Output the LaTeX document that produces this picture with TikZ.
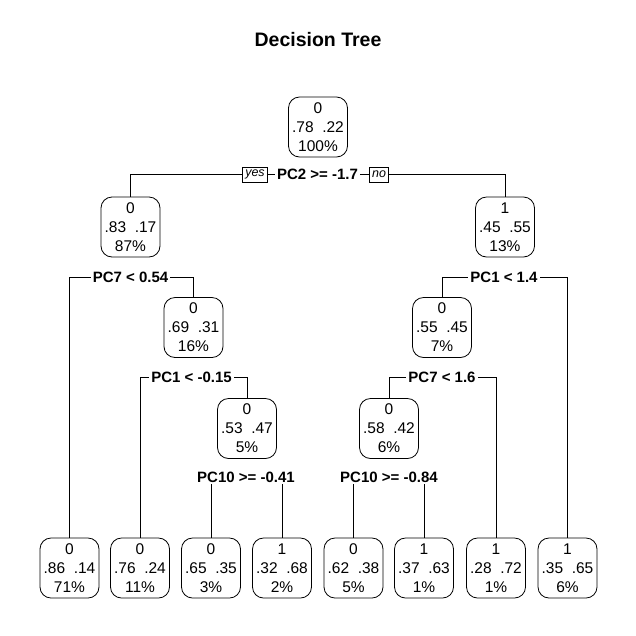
\documentclass[tikz,border=0pt]{standalone}
\usepackage{fontspec}
\setmainfont{Liberation Sans}
\usetikzlibrary{backgrounds}
\tikzset{
  tbox/.style={draw, fill=white, rounded corners=11pt, minimum width=59pt, minimum height=60pt,
    align=center, inner sep=0pt, line width=0.8pt, font=\fontsize{15.5}{19}\selectfont},
  splitlab/.style={fill=white, inner xsep=2pt, inner ysep=1pt, font=\bfseries\fontsize{15}{18}\selectfont},
  yn/.style={draw, fill=white, inner xsep=2.5pt, inner ysep=1pt, minimum height=15pt,
    line width=0.6pt, font=\itshape\fontsize{12.5}{14}\selectfont},
  edge/.style={line width=0.8pt}
}
\begin{document}
\begin{tikzpicture}[x=1pt,y=-1pt]
\useasboundingbox (0,0) rectangle (636,635);
\node[font=\bfseries\fontsize{19.5}{22}\selectfont] (title) at (318,40) {Decision Tree};
% internal nodes
\node[tbox] (n1) at (318,127) {0\\.78~~.22\\100\%};
\node[tbox] (n2) at (130.5,227) {0\\.83~~.17\\87\%};
\node[tbox] (n3) at (505,227) {1\\.45~~.55\\13\%};
\node[tbox] (n5) at (193.5,327.5) {0\\.69~~.31\\16\%};
\node[tbox] (n6) at (442,327.5) {0\\.55~~.45\\7\%};
\node[tbox] (n11) at (247,428.5) {0\\.53~~.47\\5\%};
\node[tbox] (n12) at (389,428.5) {0\\.58~~.42\\6\%};
% leaves
\node[tbox] (l4) at (69.5,568) {0\\.86~~.14\\71\%};
\node[tbox] (l10) at (140,568) {0\\.76~~.24\\11\%};
\node[tbox] (l22) at (211,568) {0\\.65~~.35\\3\%};
\node[tbox] (l23) at (282,568) {1\\.32~~.68\\2\%};
\node[tbox] (l24) at (353.5,568) {0\\.62~~.38\\5\%};
\node[tbox] (l25) at (424,568) {1\\.37~~.63\\1\%};
\node[tbox] (l13) at (496,568) {1\\.28~~.72\\1\%};
\node[tbox] (l7) at (567.5,568) {1\\.35~~.65\\6\%};
% split labels
\node[splitlab] (s1) at (317.5,174.5) {PC2 >= -1.7};
\node[yn] (yes) at (255,174.5) {yes};
\node[yn] (no) at (379,174.5) {no};
\node[splitlab] (s2) at (130.5,277.3) {PC7 < 0.54};
\node[splitlab] (s3) at (504,277.3) {PC1 < 1.4};
\node[splitlab] (s5) at (191.5,377) {PC1 < -0.15};
\node[splitlab] (s6) at (442,377) {PC7 < 1.6};
\node[splitlab] (s11) at (246,477.3) {PC10 >= -0.41};
\node[splitlab] (s12) at (389,477.3) {PC10 >= -0.84};
% connectors
\begin{scope}[on background layer]
\draw[edge] (n2.north) -- (n2.north |- s1) -- (n3.north |- s1) -- (n3.north);
\draw[edge] (l4.north) -- (l4.north |- s2) -- (n5.north |- s2) -- (n5.north);
\draw[edge] (n6.north) -- (n6.north |- s3) -- (l7.north |- s3) -- (l7.north);
\draw[edge] (l10.north) -- (l10.north |- s5) -- (n11.north |- s5) -- (n11.north);
\draw[edge] (n12.north) -- (n12.north |- s6) -- (l13.north |- s6) -- (l13.north);
\draw[edge] (l22.north) -- (l22.north |- s11) -- (l23.north |- s11) -- (l23.north);
\draw[edge] (l24.north) -- (l24.north |- s12) -- (l25.north |- s12) -- (l25.north);
\end{scope}
\end{tikzpicture}
\end{document}
